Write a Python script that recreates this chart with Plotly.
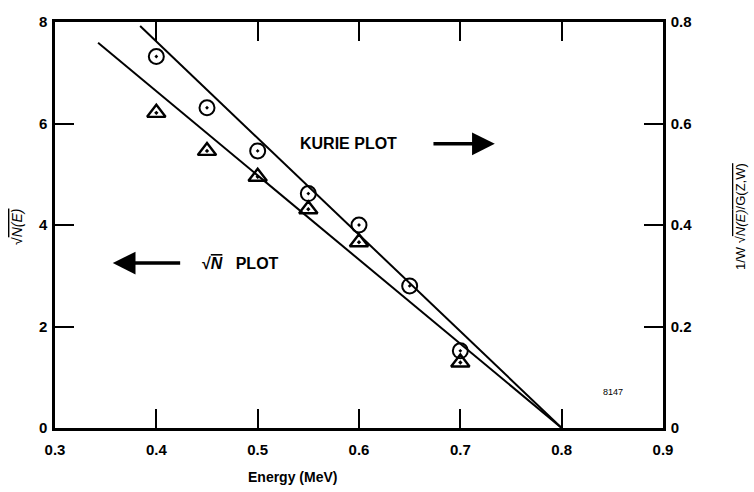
import plotly.graph_objects as go

# Data
energy_pts = [0.40, 0.45, 0.50, 0.55, 0.60, 0.65, 0.70]
kurie_vals = [0.732, 0.631, 0.546, 0.462, 0.400, 0.280, 0.152]  # circles, right axis
sqrtn_energy = [0.40, 0.45, 0.50, 0.55, 0.60, 0.70]
sqrtn_vals = [6.21, 5.46, 4.95, 4.31, 3.66, 1.29]  # triangles, left axis

kurie_line_x = [0.384, 0.80]
kurie_line_y = [0.792, 0.0]
sqrtn_line_x = [0.3425, 0.80]
sqrtn_line_y = [7.59, 0.0]

x_ticks = [0.3, 0.4, 0.5, 0.6, 0.7, 0.8, 0.9]
y_ticks = [0, 2, 4, 6, 8]
y2_ticks = [0, 0.2, 0.4, 0.6, 0.8]
y2_labels = ["0", "0.2", "0.4", "0.6", "0.8"]

FONT = "Liberation Sans"
W, H = 754, 492
PW, PH = 608, 406  # plot area size
L, T = 55, 22

fig = go.Figure()
fig.add_trace(go.Scatter(x=sqrtn_line_x, y=sqrtn_line_y, mode="lines",
                         line=dict(color="black", width=2), yaxis="y"))
fig.add_trace(go.Scatter(x=kurie_line_x, y=kurie_line_y, mode="lines",
                         line=dict(color="black", width=2), yaxis="y2"))
fig.add_trace(go.Scatter(x=sqrtn_energy, y=sqrtn_vals, mode="markers",
                         marker=dict(symbol="triangle-up-open-dot", size=16, color="black",
                                     line=dict(width=2.4, color="black")), yaxis="y"))
fig.add_trace(go.Scatter(x=energy_pts, y=kurie_vals, mode="markers",
                         marker=dict(symbol="circle-open-dot", size=15, color="black",
                                     line=dict(width=2, color="black")), yaxis="y2"))

axis_common = dict(showgrid=False, zeroline=False, showline=True, linecolor="black",
                   linewidth=2.5, ticks="inside", ticklen=19, tickwidth=1.5, tickcolor="black",
                   tickfont=dict(family=FONT, size=15, color="black", weight="bold"))

fig.update_layout(
    width=W, height=H,
    margin=dict(l=L, r=W - L - PW, t=T, b=H - T - PH),
    paper_bgcolor="white", plot_bgcolor="white",
    showlegend=False,
    xaxis=dict(range=[0.3, 0.9], tickvals=x_ticks, ticktext=[str(v) for v in x_ticks],
               mirror="ticks", ticklabelstandoff=6, **axis_common),
    yaxis=dict(range=[0, 8], tickvals=y_ticks, ticklabelstandoff=2, **axis_common),
    yaxis2=dict(range=[0, 0.8], tickvals=y2_ticks, ticktext=y2_labels, overlaying="y",
                side="right", ticklabelstandoff=2, **axis_common),
)

ann_font = dict(family=FONT, size=16, color="black", weight="bold")
fig.add_annotation(x=0.590, y=5.6, xref="x", yref="y", text="KURIE PLOT",
                   showarrow=False, font=ann_font)
fig.add_annotation(x=0.734, y=5.6, ax=0.672, ay=5.6, xref="x", yref="y", axref="x", ayref="y",
                   text="", showarrow=True, arrowhead=2, arrowsize=1.3, arrowwidth=3.5,
                   arrowcolor="black")
fig.add_annotation(x=0.4835, y=3.25, xref="x", yref="y",
                   text="√<span style='text-decoration:overline'><i>N</i></span>   PLOT",
                   showarrow=False, font=ann_font)
fig.add_annotation(x=0.357, y=3.25, ax=0.425, ay=3.25, xref="x", yref="y", axref="x", ayref="y",
                   text="", showarrow=True, arrowhead=2, arrowsize=1.3, arrowwidth=3.5,
                   arrowcolor="black")
fig.add_annotation(x=0.851, y=0.71, xref="x", yref="y", text="8147", showarrow=False,
                   font=dict(family=FONT, size=9, color="black"))
fig.add_annotation(x=0.534, y=-49 / PH, xref="x", yref="paper", text="Energy (MeV)",
                   xanchor="center", yanchor="middle", showarrow=False,
                   font=dict(family=FONT, size=14, color="black", weight="bold"))
fig.add_annotation(x=(17 - L) / PW, y=(428 - 227) / PH, xref="paper", yref="paper",
                   text="√<span style='text-decoration:overline'><i>N(E)</i></span>",
                   xanchor="center", yanchor="middle", textangle=-90, showarrow=False,
                   font=dict(family=FONT, size=14, color="black"))
fig.add_annotation(x=(740 - L) / PW, y=(428 - 217) / PH, xref="paper", yref="paper",
                   text="1/W √<span style='text-decoration:overline'><i>N(E)</i>/G(Z,W)</span>",
                   xanchor="center", yanchor="middle", textangle=-90, showarrow=False,
                   font=dict(family=FONT, size=13, color="black"))

fig.write_html("out.html", config={"displayModeBar": False},
               post_script="document.body.style.margin='0';document.body.style.overflow='hidden';")
